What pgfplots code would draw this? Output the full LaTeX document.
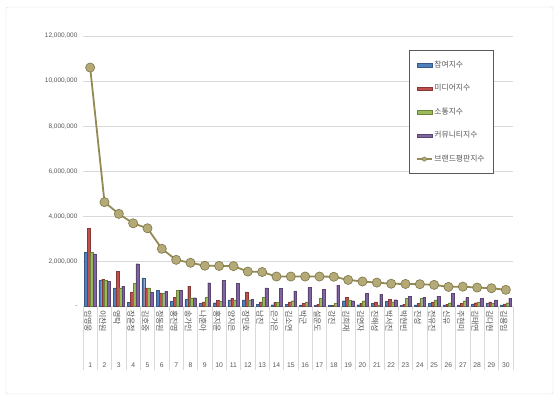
\documentclass[border=0pt]{standalone}
\usepackage{pgfplots}
\usepackage{pgfplotstable}
\pgfplotsset{compat=1.18}
\usepackage{fontspec}
\setmainfont{Liberation Sans}
\newfontfamily\kr{Noto Sans CJK KR}
\definecolor{cBlue}{HTML}{4F81BD}
\definecolor{cRed}{HTML}{C0504D}
\definecolor{cGreen}{HTML}{9BBB59}
\definecolor{cPurple}{HTML}{8064A2}
\definecolor{cLine}{HTML}{948A54}
\definecolor{cMark}{HTML}{B3AA77}
\definecolor{cTxt}{HTML}{595959}
\definecolor{cGrid}{HTML}{D9D9D9}

\pgfplotstableread{
x p m s c b
1 2410000 3480000 2410000 2340000 10600000
2 1160000 1210000 1160000 1120000 4630000
3 830000 1570000 830000 900000 4110000
4 180000 620000 1020000 1900000 3690000
5 1270000 830000 830000 650000 3470000
6 710000 610000 610000 680000 2560000
7 240000 400000 720000 720000 2070000
8 330000 900000 390000 390000 1940000
9 140000 210000 400000 1060000 1810000
10 170000 280000 230000 1160000 1800000
11 290000 360000 290000 1020000 1790000
12 290000 650000 290000 320000 1550000
13 100000 210000 400000 830000 1530000
14 80000 180000 180000 800000 1330000
15 110000 200000 260000 690000 1330000
16 70000 140000 200000 840000 1330000
17 60000 100000 360000 760000 1330000
18 50000 60000 140000 950000 1320000
19 260000 400000 290000 260000 1180000
20 80000 140000 260000 580000 1110000
21 140000 200000 70000 540000 1060000
22 240000 330000 200000 300000 1010000
23 50000 100000 360000 460000 1000000
24 70000 140000 360000 400000 990000
25 140000 210000 290000 460000 960000
26 70000 100000 170000 580000 870000
27 70000 140000 260000 400000 880000
28 120000 170000 200000 360000 840000
29 140000 210000 140000 290000 810000
30 70000 120000 170000 360000 740000
}\data

\begin{document}
\begin{tikzpicture}
\useasboundingbox (0,0) rectangle (560pt,402pt);
\fill[white] (0,0) rectangle (560pt,402pt);
\draw[cGrid, rounded corners=2pt] (6pt,8pt) rectangle (553pt,395pt);
\begin{axis}[
  at={(83pt,95.5pt)}, anchor=south west,
  scale only axis, width=430pt, height=270.5pt,
  xmin=0.5, xmax=30.5, ymin=0, ymax=12000000,
  scaled y ticks=false,
  axis x line*=bottom, axis y line*=left,
  y axis line style={draw=none},
  x axis line style={cGrid},
  ymajorgrids, grid style={cGrid},
  ytick={0,2000000,4000000,6000000,8000000,10000000,12000000},
  yticklabels={{-},{2,000,000},{4,000,000},{6,000,000},{8,000,000},{10,000,000},{12,000,000}},
  yticklabel style={font=\fontsize{6.5}{7}\selectfont, text=cTxt, xshift=-2pt},
  major tick length=0pt,
  xtick={1,...,30},
  xticklabels={임영웅,이찬원,영탁,장윤정,김호중,정동원,홍진영,송가인,나훈아,홍지윤,양지은,장민호,남진,은가은,김소연,박군,설운도,강진,김희재,김연자,진해성,박서진,박현빈,진성,전유진,신유,주현미,김태연,김다현,김용임},
  xticklabel style={font=\kr\fontsize{8}{8}\selectfont, text=cTxt, rotate=-90, anchor=west, yshift=-2pt},
  clip=false,
  legend style={at={(0.758,0.948)}, anchor=north west, draw=cTxt, line width=0.6pt,
    font=\kr\fontsize{7.8}{8}\selectfont, text=cTxt, row sep=11.6pt,
    inner xsep=7pt, inner ysep=8.5pt, cells={anchor=west}},
  legend cell align=left,
]
\pgfplotsinvokeforeach{0,...,30}{
  \draw[cGrid] (axis cs:#1+0.5,0) -- ++(0pt,-63pt);
}
\pgfplotsinvokeforeach{1,...,30}{
  \node[font=\fontsize{6.8}{7}\selectfont, text=cTxt] at (axis cs:#1,0) [yshift=-59pt] {#1};
}
\addplot[ybar, bar width=2.8pt, bar shift=-4.2pt, fill=cBlue, draw=cBlue!70!black, line width=0.2pt,
  legend image code/.code={\draw[fill=cBlue,draw=cBlue!70!black] (0pt,-1.8pt) rectangle (15pt,1.8pt);}]
  table[x=x,y=p]{\data};
\addlegendentry{참여지수}
\addplot[ybar, bar width=2.8pt, bar shift=-1.4pt, fill=cRed, draw=cRed!70!black, line width=0.2pt,
  legend image code/.code={\draw[fill=cRed,draw=cRed!70!black] (0pt,-1.8pt) rectangle (15pt,1.8pt);}]
  table[x=x,y=m]{\data};
\addlegendentry{미디어지수}
\addplot[ybar, bar width=2.8pt, bar shift=1.4pt, fill=cGreen, draw=cGreen!70!black, line width=0.2pt,
  legend image code/.code={\draw[fill=cGreen,draw=cGreen!70!black] (0pt,-1.8pt) rectangle (15pt,1.8pt);}]
  table[x=x,y=s]{\data};
\addlegendentry{소통지수}
\addplot[ybar, bar width=2.8pt, bar shift=4.2pt, fill=cPurple, draw=cPurple!70!black, line width=0.2pt,
  legend image code/.code={\draw[fill=cPurple,draw=cPurple!70!black] (0pt,-1.8pt) rectangle (15pt,1.8pt);}]
  table[x=x,y=c]{\data};
\addlegendentry{커뮤니티지수}
\addplot[sharp plot, cLine, line width=1.8pt, mark=*, mark size=4.6pt,
  mark options={fill=cMark, draw=cLine!85!black, line width=0.6pt},
  legend image code/.code={\draw[cLine,line width=1.2pt] (0pt,0pt) -- (15pt,0pt);
    \fill[cMark,draw=cLine!85!black,line width=0.4pt] (7.5pt,0pt) circle (2.2pt);}]
  table[x=x,y=b]{\data};
\addlegendentry{브랜드평판지수}
\end{axis}
\end{tikzpicture}
\end{document}
